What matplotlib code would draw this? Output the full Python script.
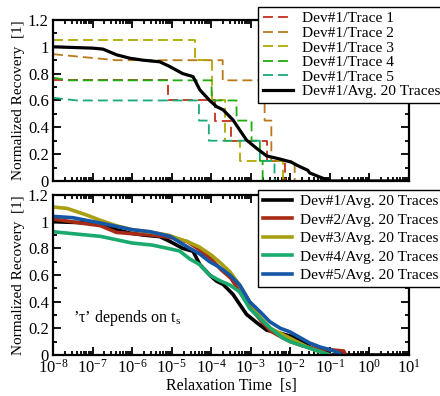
import matplotlib
matplotlib.use("Agg")
import matplotlib.pyplot as plt
import numpy as np
from matplotlib.ticker import MultipleLocator, FuncFormatter, LogLocator

plt.rcParams['font.family'] = ['Liberation Serif', 'DejaVu Serif']
plt.rcParams['mathtext.fontset'] = 'stix'
plt.rcParams['font.size'] = 11

# ---- top panel: single traces of Dev#1 (step functions) ----
# start value, log10(t) where the initial slope ends, jump times (log10 s), levels
tr1_start, tr1_slope, tr1_jumps, tr1_levels = 0.75, -7.9, [-5.1, -3.91, -3.49, -2.6, -2.14], [0.75, 0.6, 0.45, 0.3, 0.15, 0.0]
tr2_start, tr2_slope, tr2_jumps, tr2_levels = 0.945, -6.4, [-3.71, -2.65, -2.48, -1.89], [0.9, 0.75, 0.45, 0.15, 0.0]
tr3_start, tr3_slope, tr3_jumps, tr3_levels = 1.05, -7.9, [-4.41, -3.99, -3.66, -3.28, -2.19], [1.05, 0.9, 0.6, 0.3, 0.15, 0.0]
tr4_start, tr4_slope, tr4_jumps, tr4_levels = 0.77, -7.6, [-3.99, -3.36, -2.98, -2.77, -2.7], [0.75, 0.6, 0.45, 0.3, 0.15, 0.0]
tr5_start, tr5_slope, tr5_jumps, tr5_levels = 0.62, -7.4, [-4.31, -4.06, -2.77, -2.4], [0.6, 0.45, 0.3, 0.15, 0.0]

# Dev#1 average of 20 traces (log10 t, value)
avg1_logt = [-8, -7.5, -7.0, -6.74, -6.39, -6.06, -5.72, -5.3, -5.05, -4.72, -4.46, -4.29,
             -4.04, -3.87, -3.7, -3.45, -3.28, -3.11, -2.86, -2.6, -2.27, -1.97, -1.85,
             -1.76, -1.56, -1.51, -1.26, -1.0, 1.0]
avg1_val = [1.0, 0.995, 0.99, 0.983, 0.94, 0.915, 0.90, 0.888, 0.853, 0.80, 0.778, 0.68,
            0.60, 0.555, 0.53, 0.455, 0.38, 0.306, 0.245, 0.187, 0.164, 0.14, 0.12,
            0.107, 0.08, 0.06, 0.03, 0.0, 0.0]

# ---- bottom panel: averages of the 5 devices ----
avg2_logt = [-8, -7.3, -6.8, -6.4, -6.0, -5.5, -5.0, -4.6, -4.3, -4.0, -3.75, -3.5, -3.25,
             -3.0, -2.75, -2.5, -2.2, -2.0, -1.7, -1.4, -1.0, -0.65, -0.6]
avg2_val = [1.02, 0.99, 0.97, 0.92, 0.91, 0.90, 0.88, 0.85, 0.79, 0.72, 0.64, 0.575, 0.46,
            0.35, 0.26, 0.18, 0.13, 0.10, 0.07, 0.05, 0.04, 0.03, 0.0]
avg3_logt = [-8, -7.65, -7.15, -6.8, -6.4, -6.0, -5.5, -5.1, -4.6, -4.3, -4.0, -3.8, -3.53,
             -3.28, -3.03, -2.75, -2.5, -2.0, -1.5, -1.2, -1.0]
avg3_val = [1.11, 1.10, 1.05, 1.01, 0.97, 0.94, 0.92, 0.90, 0.85, 0.81, 0.75, 0.70, 0.625,
            0.525, 0.40, 0.28, 0.20, 0.125, 0.05, 0.02, 0.0]
avg4_logt = [-8, -7.5, -6.8, -6.0, -5.5, -5.1, -4.8, -4.54, -4.3, -4.04, -3.8, -3.53,
             -3.28, -3.03, -2.75, -2.5, -2.2, -2.0, -1.5, -1.2, -1.0]
avg4_val = [0.925, 0.91, 0.89, 0.84, 0.825, 0.80, 0.78, 0.72, 0.68, 0.60, 0.56, 0.525,
            0.475, 0.35, 0.27, 0.20, 0.13, 0.10, 0.05, 0.02, 0.0]
avg5_logt = [-8, -7.5, -6.8, -6.0, -5.55, -5.04, -4.54, -4.3, -4.04, -3.8, -3.53, -3.28,
             -3.03, -2.75, -2.52, -2.25, -2.02, -1.75, -1.51, -1.25, -1.0, -0.8, -0.7]
avg5_val = [1.04, 1.03, 0.99, 0.94, 0.925, 0.89, 0.80, 0.76, 0.70, 0.66, 0.60, 0.525,
            0.40, 0.32, 0.25, 0.20, 0.175, 0.13, 0.09, 0.06, 0.04, 0.02, 0.0]

trace_labels = ["Dev#1/Trace 1", "Dev#1/Trace 2", "Dev#1/Trace 3", "Dev#1/Trace 4", "Dev#1/Trace 5"]
trace_colors = ["#c0301a", "#b87a18", "#b0a800", "#22aa11", "#18aa7a"]
dev_labels = ["Dev#%d/Avg. 20 Traces" % i for i in range(1, 6)]
dev_colors = ["black", "#a82a14", "#a8a010", "#1aaa6e", "#1656a6"]


def step_path(start, slope_end, jumps, levels):
    xs = [-8, slope_end]
    ys = [start, levels[0]]
    for t, lv in zip(jumps, levels[1:]):
        xs += [t, t]
        ys += [ys[-1], lv]
    xs.append(1)
    ys.append(ys[-1])
    return 10.0 ** np.array(xs), np.array(ys)


def style_axis(ax):
    ax.set_xscale('log')
    ax.set_xlim(1e-8, 1e1)
    ax.set_ylim(0, 1.2)
    ax.yaxis.set_major_locator(MultipleLocator(0.2))
    ax.yaxis.set_minor_locator(MultipleLocator(0.1))
    ax.yaxis.set_major_formatter(FuncFormatter(lambda v, p: "%g" % round(v, 2)))
    ax.xaxis.set_major_locator(LogLocator(base=10, numticks=20))
    ax.xaxis.set_minor_locator(LogLocator(base=10, subs=np.arange(2, 10), numticks=20))
    ax.tick_params(which='both', direction='in', top=True, right=True, width=1.3)
    ax.tick_params(which='major', length=6, labelsize=12, pad=3)
    ax.tick_params(which='minor', length=3)
    for s in ax.spines.values():
        s.set_linewidth(1.6)
    ax.set_ylabel("Normalized Recovery  [1]", fontsize=11, labelpad=2)


fig = plt.figure(figsize=(4.4, 3.96), dpi=100)
ax1 = fig.add_axes([0.1205, 0.543, 0.809, 0.4066])
ax2 = fig.add_axes([0.1205, 0.1035, 0.809, 0.404])

traces = [(tr1_start, tr1_slope, tr1_jumps, tr1_levels),
          (tr2_start, tr2_slope, tr2_jumps, tr2_levels),
          (tr3_start, tr3_slope, tr3_jumps, tr3_levels),
          (tr4_start, tr4_slope, tr4_jumps, tr4_levels),
          (tr5_start, tr5_slope, tr5_jumps, tr5_levels)]
for (st, sl, jm, lv), lab, col in zip(traces, trace_labels, trace_colors):
    x, y = step_path(st, sl, jm, lv)
    ax1.plot(x, y, color=col, lw=1.3, dashes=(5.5, 2.8), label=lab)
ax1.plot(10.0 ** np.array(avg1_logt), avg1_val, color='black', lw=2.3, label="Dev#1/Avg. 20 Traces")
style_axis(ax1)
ax1.tick_params(labelbottom=False)
ax1.legend(loc='upper left', bbox_to_anchor=(258 / 440, 1 - 7 / 396), bbox_transform=fig.transFigure,
           borderaxespad=0, fancybox=False, edgecolor='black', framealpha=1, fontsize=11.1,
           labelspacing=0.05, handlelength=2.0, handletextpad=0.55, borderpad=0.3)

dev_data = [(avg1_logt, avg1_val), (avg2_logt, avg2_val), (avg3_logt, avg3_val),
            (avg4_logt, avg4_val), (avg5_logt, avg5_val)]
for (lt, v), lab, col in zip(dev_data, dev_labels, dev_colors):
    ax2.plot(10.0 ** np.array(lt), v, color=col, lw=2.6, label=lab)
style_axis(ax2)
ax2.legend(loc='upper left', bbox_to_anchor=(258 / 440, 1 - 190 / 396), bbox_transform=fig.transFigure,
           borderaxespad=0, fancybox=False, edgecolor='black', framealpha=1, fontsize=11.1,
           labelspacing=0.3, handlelength=1.9, handletextpad=0.5, borderpad=0.3)
ax2.text(10 ** -7.5, 0.28, "\u2019\u03c4\u2019 depends on t$_\\mathregular{s}$", fontsize=11.5,
         va='center', ha='left')
ax2.set_xlabel("Relaxation Time  [s]", fontsize=11.5, labelpad=1)

fig.savefig("out.png", dpi=100)
